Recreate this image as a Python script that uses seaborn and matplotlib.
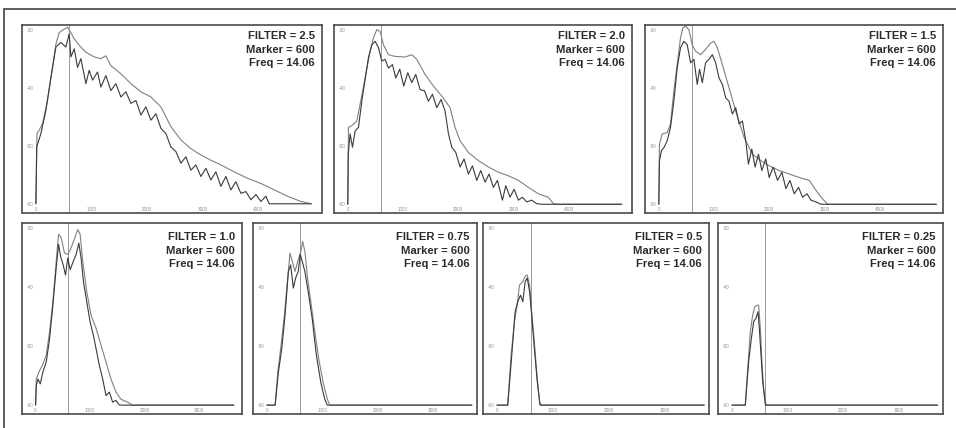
import matplotlib
matplotlib.use("Agg")
import matplotlib.pyplot as plt
import seaborn as sns
from matplotlib.lines import Line2D

# ---------------- data ----------------
FILTERS = ["2.5", "2.0", "1.5", "1.0", "0.75", "0.5", "0.25"]
MARKER = 600
FREQ = "14.06"
XTICKS_TOP = [0, 1000, 2000, 3000, 4000]
XTICKS_BOT = [0, 1000, 2000, 3000]
YTICKS = [-30, -40, -50, -60]

# FILTER = 2.5
A_up_f = [0, 20, 60, 120, 210, 300, 360, 420, 510, 570, 630, 690, 780, 900, 1050, 1170, 1260, 1350,
          1530, 1710, 1890, 2070, 2250, 2430, 2610, 2790, 2970, 3150, 3330, 3570, 3810, 4050, 4290,
          4530, 4770, 4955]
A_up_db = [-60, -47.9, -47.3, -46.2, -42.2, -36.5, -32.5, -30.5, -29.9, -29.6, -30.5, -31.6, -32.7,
           -33.9, -34.7, -35.0, -34.5, -36.2, -37.6, -39.3, -40.7, -41.6, -43.3, -46.7, -49.0, -50.5,
           -51.6, -52.5, -53.3, -54.5, -55.6, -56.5, -57.6, -58.7, -59.6, -60]
A_lo_f = [0, 15, 90, 180, 270, 360, 450, 540, 600, 630, 690, 750, 810, 900, 960, 1020, 1110, 1170,
          1260, 1350, 1440, 1530, 1620, 1710, 1800, 1890, 1980, 2070, 2160, 2250, 2340, 2430, 2520,
          2610, 2700, 2790, 2880, 2970, 3060, 3150, 3240, 3330, 3420, 3510, 3600, 3690, 3780, 3870,
          3960, 4050, 4140, 4200, 4265, 4955]
A_lo_db = [-60, -50.2, -47.9, -43.9, -38.2, -33.0, -32.2, -33.0, -30.7, -34.7, -33.3, -36.5, -35.0,
           -39.3, -37.0, -38.7, -37.3, -39.9, -37.9, -40.5, -39.3, -41.6, -40.7, -42.7, -42.2, -44.7,
           -43.3, -45.6, -44.5, -47.0, -47.9, -50.2, -51.0, -53.0, -51.9, -54.2, -53.3, -55.3, -53.9,
           -55.9, -54.5, -57.0, -55.3, -57.6, -56.2, -58.2, -57.9, -59.3, -58.4, -59.6, -58.7, -60,
           -60, -60]

# FILTER = 2.0
B_up_f = [0, 12, 72, 163, 223, 314, 405, 465, 525, 586, 646, 737, 858, 1039, 1159, 1250, 1401, 1552,
          1703, 1854, 1944, 2035, 2186, 2367, 2548, 2729, 2910, 3092, 3273, 3454, 3635, 3726, 3816, 4964]
B_up_db = [-60, -46.8, -46.5, -45.7, -42.8, -38.3, -33.7, -31.4, -30.0, -30.3, -32.6, -34.3, -34.6,
           -34.7, -34.3, -35.1, -37.7, -39.7, -41.4, -43.4, -46.8, -49.1, -51.1, -52.5, -53.6, -54.5,
           -55.1, -55.9, -57.1, -58.2, -58.8, -59.9, -60, -60]
B_lo_f = [0, 8, 42, 85, 133, 193, 254, 314, 374, 435, 495, 556, 616, 676, 737, 809, 870, 942, 1014,
          1087, 1159, 1232, 1310, 1389, 1461, 1534, 1612, 1691, 1763, 1824, 1884, 1957, 2035, 2107,
          2186, 2258, 2337, 2409, 2488, 2560, 2639, 2711, 2802, 2862, 2941, 3013, 3092, 3164, 3243,
          3333, 3424, 3514, 4964]
B_lo_db = [-60, -51.4, -47.9, -50.2, -47.4, -46.8, -42.3, -38.5, -34.8, -32.6, -32.0, -33.1, -35.4,
           -35.1, -36.6, -36.0, -38.3, -36.8, -39.7, -37.4, -39.1, -37.7, -40.3, -40.5, -42.3, -41.1,
           -43.4, -42.0, -44.0, -47.9, -50.2, -51.1, -53.6, -52.2, -54.8, -53.4, -55.9, -54.2, -56.2,
           -54.8, -57.1, -55.9, -59.3, -56.8, -58.8, -57.4, -59.3, -58.8, -59.6, -59.3, -59.9, -60, -60]

# FILTER = 1.5
C_up_f = [0, 12, 61, 152, 212, 273, 333, 394, 436, 485, 545, 606, 667, 758, 848, 939, 1000, 1061,
          1152, 1273, 1394, 1545, 1697, 1848, 2000, 2182, 2364, 2545, 2727, 2848, 2970, 3061, 5030]
C_up_db = [-60, -49.7, -47.9, -47.7, -46.2, -40.5, -36.0, -31.4, -29.7, -29.4, -30.0, -32.6, -33.7,
           -34.3, -33.4, -32.3, -32.0, -33.1, -36.0, -40.0, -44.0, -48.5, -51.4, -52.5, -53.4, -54.2,
           -54.8, -55.4, -55.9, -57.6, -59.1, -60, -60]
C_lo_f = [0, 12, 48, 97, 152, 212, 273, 333, 394, 455, 515, 576, 636, 697, 739, 788, 848, 909, 970,
          1030, 1091, 1152, 1212, 1273, 1333, 1394, 1455, 1515, 1576, 1624, 1685, 1745, 1806, 1867,
          1939, 2000, 2073, 2152, 2230, 2303, 2376, 2455, 2533, 2606, 2685, 2758, 2848, 2939, 5030]
C_lo_db = [-60, -52.5, -50.8, -50.2, -49.1, -46.8, -42.3, -36.6, -33.1, -32.0, -32.6, -35.7, -35.1,
           -39.4, -36.8, -39.1, -35.7, -35.1, -34.3, -35.7, -38.3, -39.4, -41.7, -42.3, -44.5, -43.4,
           -46.2, -45.7, -49.1, -53.1, -50.5, -53.6, -51.4, -54.2, -52.2, -55.4, -53.6, -55.9, -54.5,
           -57.3, -55.9, -58.2, -57.1, -58.8, -58.2, -59.3, -59.6, -60, -60]

# FILTER = 1.0
D_up_f = [0, 12, 61, 122, 195, 256, 317, 378, 421, 470, 530, 591, 652, 732, 774, 817, 866, 939, 1018,
          1110, 1201, 1293, 1384, 1476, 1567, 1689, 1780, 3640]
D_up_db = [-60, -55.6, -54.4, -53.3, -51.6, -47.6, -42.5, -35.7, -31.1, -31.7, -34.3, -34.5, -33.4,
           -31.4, -30.3, -31.1, -35.7, -40.8, -44.8, -47.0, -49.9, -52.7, -55.6, -57.8, -59.0, -59.5,
           -60, -60]
D_lo_f = [0, 12, 43, 85, 134, 195, 256, 317, 378, 421, 457, 512, 549, 591, 634, 683, 744, 793, 835,
          878, 939, 1000, 1061, 1122, 1171, 1232, 1293, 1354, 1415, 1476, 1537, 3640]
D_lo_db = [-60, -56.7, -55.6, -56.4, -54.4, -52.7, -48.8, -43.1, -36.8, -32.8, -34.8, -36.5, -38.0,
           -35.1, -37.1, -35.9, -34.5, -32.6, -35.1, -39.1, -42.5, -45.9, -48.2, -51.0, -53.3, -55.6,
           -58.4, -57.8, -59.5, -59.2, -60, -60]

# FILTER = 0.75
E_up_f = [0, 149, 197, 256, 316, 376, 417, 459, 507, 566, 614, 644, 686, 733, 793, 865, 936, 1014,
          1091, 1133, 3697]
E_up_db = [-60, -60, -54.4, -49.9, -44.8, -38.5, -34.3, -35.7, -37.4, -35.4, -34.0, -32.3, -34.0,
           -38.5, -42.5, -47.6, -52.2, -56.1, -59.0, -60, -60]
E_lo_f = [0, 149, 209, 268, 328, 388, 429, 477, 519, 566, 602, 638, 686, 745, 817, 894, 972, 1044,
          1091, 3697]
E_lo_db = [-60, -60, -54.4, -50.5, -44.8, -37.4, -36.3, -40.2, -38.5, -37.4, -34.5, -35.7, -37.4,
           -40.8, -45.3, -51.6, -56.1, -59.0, -60, -60]

# FILTER = 0.5
F_up_f = [0, 192, 252, 312, 360, 402, 462, 504, 540, 583, 625, 673, 721, 763, 793, 3705]
F_up_db = [-60, -60, -51.6, -45.9, -43.1, -39.7, -39.1, -38.2, -38.0, -39.7, -44.8, -49.9, -55.6,
           -59.5, -60, -60]
F_lo_f = [0, 192, 264, 324, 372, 420, 462, 504, 540, 583, 625, 673, 721, 769, 3705]
F_lo_db = [-60, -60, -51.6, -44.2, -42.5, -41.4, -42.5, -39.1, -38.5, -40.8, -45.3, -51.0, -56.1,
           -60, -60]

# FILTER = 0.25
G_up_f = [0, 240, 288, 330, 372, 408, 450, 480, 511, 541, 571, 613, 3694]
G_up_db = [-60, -60, -53.2, -47.6, -44.8, -43.4, -43.1, -43.1, -47.1, -53.2, -57.2, -60, -60]
G_lo_f = [0, 240, 300, 348, 390, 432, 468, 492, 523, 553, 601, 3694]
G_lo_db = [-60, -60, -52.7, -48.8, -45.9, -45.3, -44.2, -47.0, -51.6, -56.1, -60, -60]

TRACES = [
    (A_up_f, A_up_db, A_lo_f, A_lo_db),
    (B_up_f, B_up_db, B_lo_f, B_lo_db),
    (C_up_f, C_up_db, C_lo_f, C_lo_db),
    (D_up_f, D_up_db, D_lo_f, D_lo_db),
    (E_up_f, E_up_db, E_lo_f, E_lo_db),
    (F_up_f, F_up_db, F_lo_f, F_lo_db),
    (G_up_f, G_up_db, G_lo_f, G_lo_db),
]

# ---------------- styling / layout ----------------
sns.set_theme(style="white")
plt.rcParams["font.family"] = ["Liberation Sans", "DejaVu Sans"]

W, H = 956, 428
fig = plt.figure(figsize=(W / 100, H / 100), dpi=100)
fig.patch.set_facecolor("white")

# panel boxes in pixels: left, top, right, bottom
BOXES = [(22, 25, 322, 212.5), (334, 25, 632, 213), (645, 25, 943, 213),
         (22, 223, 242, 414), (253, 223, 477, 414), (483, 223, 709, 414), (718, 223, 943, 414)]

for i, (box, tr, filt) in enumerate(zip(BOXES, TRACES, FILTERS)):
    x0, y0, x1, y1 = box
    wpx, hpx = x1 - x0, y1 - y0
    ax = fig.add_axes([x0 / W, 1 - y1 / H, wpx / W, hpx / H])
    top = i < 3
    up_f, up_db, lo_f, lo_db = tr
    ax.axvline(MARKER, color="#9a9a9a", lw=0.7, zorder=1)
    sns.lineplot(x=up_f, y=up_db, ax=ax, color="#808080", lw=0.8, estimator=None, sort=False, zorder=2)
    sns.lineplot(x=lo_f, y=lo_db, ax=ax, color="#3a3a3a", lw=0.8, estimator=None, sort=False, zorder=3)
    ax.set_xlim(-250, 5150 if top else 3790)
    ax.set_ylim(-61.5, -29.2)
    ax.set_xticks(XTICKS_TOP if top else XTICKS_BOT)
    ax.set_yticks(YTICKS)
    ax.set_xticklabels([str(t) for t in (XTICKS_TOP if top else XTICKS_BOT)])
    ax.set_yticklabels([str(t) for t in YTICKS])
    ax.tick_params(axis="x", length=0, pad=-4, labelsize=3.3, labelcolor="#909090")
    ax.tick_params(axis="y", length=0, pad=-8, labelsize=3.3, labelcolor="#909090")
    ax.set_xlabel("")
    ax.set_ylabel("")
    for s in ax.spines.values():
        s.set_color("#4a4a4a")
        s.set_linewidth(1.2)
    ty = 1 - (6 if top else 9) / hpx
    ax.text(1 - 7 / wpx, ty, f"FILTER = {filt}\nMarker = {MARKER}\nFreq = {FREQ}",
            transform=ax.transAxes, ha="right", va="top", multialignment="right",
            fontsize=8.1, fontweight="bold", color="#2b2b2b", linespacing=1.45, zorder=5)

# outer frame (clipped at right and bottom like the scan)
fig.add_artist(Line2D([4 / W, 4 / W], [0, 1 - 9 / H], transform=fig.transFigure, color="#505050", lw=1.3))
fig.add_artist(Line2D([4 / W, 1], [1 - 9 / H, 1 - 9 / H], transform=fig.transFigure, color="#505050", lw=1.3))

fig.savefig("out.png", dpi=100, facecolor="white")
